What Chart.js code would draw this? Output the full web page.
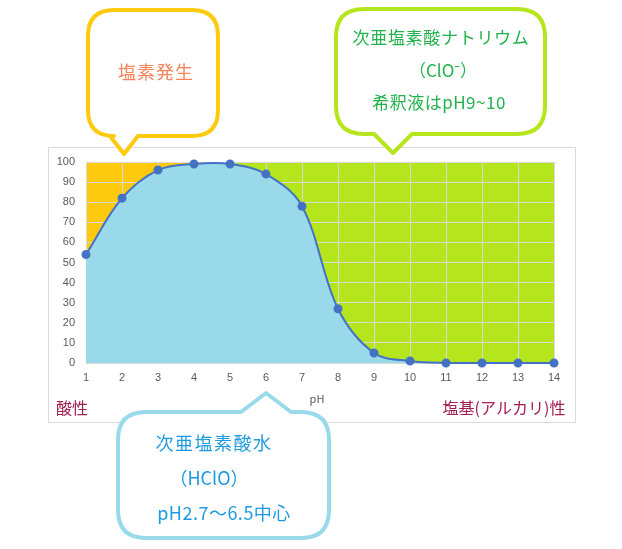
<!DOCTYPE html>
<html>
<head>
<meta charset="utf-8">
<script src="https://cdn.jsdelivr.net/npm/chart.js@4/dist/chart.umd.min.js"></script>
<style>
  html, body { margin: 0; padding: 0; background: #fff; }
  #wrap { width: 622px; height: 549px; position: relative; }
</style>
</head>
<body>
<div id="wrap"><canvas id="myChart"></canvas></div>
<script>
// pH と 次亜塩素酸(HClO) の存在比率 (%)
const phValues = [1, 2, 3, 4, 5, 6, 7, 8, 9, 10, 11, 12, 13, 14];
const hcloRatio = [54, 82, 96, 99, 99, 94, 78, 27, 5, 1, 0, 0, 0, 0];
const yTicks = [0, 10, 20, 30, 40, 50, 60, 70, 80, 90, 100];
// 背景の色分け (pH範囲)
const zoneFrom = [1, 4.5];
const zoneTo = [4.5, 14];
const zoneColors = ["#FFC90E", "#B5E61D"];

const FONT_JP = "'Noto Sans CJK JP', 'Noto Sans', sans-serif";

// 吹き出し (dir: "down" なら下向き, "up" なら上向き)
function bubble(ctx, b) {
  const { x, y, w, h, r, tipX, tipY, half, dir, color } = b;
  ctx.save();
  ctx.lineWidth = 4;
  ctx.strokeStyle = color;
  ctx.fillStyle = "#fff";
  ctx.lineJoin = "round";
  ctx.beginPath();
  ctx.moveTo(x + r, y);
  if (dir === "up") {
    ctx.lineTo(tipX - half, y);
    ctx.lineTo(tipX, tipY);
    ctx.lineTo(tipX + half, y);
  }
  ctx.lineTo(x + w - r, y);
  ctx.quadraticCurveTo(x + w, y, x + w, y + r);
  ctx.lineTo(x + w, y + h - r);
  ctx.quadraticCurveTo(x + w, y + h, x + w - r, y + h);
  if (dir === "down") {
    ctx.lineTo(tipX + half, y + h);
    ctx.lineTo(tipX, tipY);
    ctx.lineTo(tipX - half, y + h);
  }
  ctx.lineTo(x + r, y + h);
  ctx.quadraticCurveTo(x, y + h, x, y + h - r);
  ctx.lineTo(x, y + r);
  ctx.quadraticCurveTo(x, y, x + r, y);
  ctx.closePath();
  ctx.fill();
  ctx.stroke();
  ctx.restore();
}

function text(ctx, str, x, y, color, size, spacing) {
  ctx.save();
  ctx.fillStyle = color;
  ctx.font = size + "px " + FONT_JP;
  ctx.letterSpacing = (spacing || 0) + "px";
  ctx.textAlign = "center";
  ctx.textBaseline = "middle";
  ctx.fillText(str, x, y);
  ctx.restore();
}

const zonePlugin = {
  id: "zones",
  beforeDraw(chart) {
    const { ctx, chartArea, scales } = chart;
    // 外枠
    ctx.save();
    ctx.strokeStyle = "#D9D9D9";
    ctx.lineWidth = 1;
    ctx.strokeRect(48.5, 147.5, 527, 275);
    ctx.restore();
    ctx.save();
    for (let i = 0; i < zoneFrom.length; i++) {
      const x0 = scales.x.getPixelForValue(zoneFrom[i]);
      const x1 = scales.x.getPixelForValue(zoneTo[i]);
      ctx.fillStyle = zoneColors[i];
      ctx.fillRect(x0, chartArea.top, x1 - x0, chartArea.bottom - chartArea.top);
    }
    ctx.restore();
  },
  afterDraw(chart) {
    const ctx = chart.ctx;
    text(ctx, "pH", 317, 399, "#595959", 11);
    text(ctx, "酸性", 72, 408, "#A0204F", 16);
    text(ctx, "塩基(アルカリ)性", 504, 408, "#A0204F", 16);

    bubble(ctx, { x: 88, y: 10, w: 130, h: 126, r: 26, tipX: 124, tipY: 154, half: 14, dir: "down", color: "#FFC90E" });
    text(ctx, "塩素発生", 156, 72, "#F7835A", 18, 1);

    bubble(ctx, { x: 336, y: 9, w: 209, h: 125, r: 28, tipX: 393, tipY: 153, half: 19, dir: "down", color: "#B5E61D" });
    text(ctx, "次亜塩素酸ナトリウム", 441, 38, "#22B14C", 17, 0.7);
    text(ctx, "（ClO⁻）", 443, 71, "#22B14C", 17);
    text(ctx, "希釈液はpH9~10", 439, 103, "#22B14C", 17, 0.5);

    bubble(ctx, { x: 118, y: 412, w: 211, h: 126, r: 28, tipX: 266, tipY: 393, half: 25, dir: "up", color: "#99D9EA" });
    text(ctx, "次亜塩素酸水", 214, 443, "#1E9BE0", 18, 1.5);
    text(ctx, "（HClO）", 209, 478, "#1E9BE0", 18);
    text(ctx, "pH2.7～6.5中心", 224, 513, "#1E9BE0", 18, 0.5);
  }
};

new Chart(document.getElementById("myChart"), {
  type: "line",
  data: {
    datasets: [
      {
        label: "HClO",
        data: phValues.map((p, i) => ({ x: p, y: hcloRatio[i] })),
        borderColor: "#4472C4",
        borderWidth: 2,
        backgroundColor: "#99D9EA",
        fill: "origin",
        pointRadius: 3.5,
        pointBackgroundColor: "#4472C4",
        pointBorderColor: "#4472C4",
        tension: 0.35,
        clip: false,
      },
    ],
  },
  options: {
    responsive: true,
    maintainAspectRatio: false,
    animation: false,
    layout: {
      padding: { left: 50, top: 162, right: 68, bottom: 156 },
    },
    plugins: {
      legend: { display: false },
      tooltip: { enabled: false },
    },
    scales: {
      x: {
        type: "linear",
        min: 1,
        max: 14,
        afterBuildTicks: (axis) => {
          axis.ticks = phValues.map((v) => ({ value: v }));
        },
        afterFit: (axis) => {
          axis.height = 30;
        },
        ticks: {
          color: "#595959",
          font: { size: 11, family: "'Liberation Sans', Arial, sans-serif" },
          padding: 8,
        },
        grid: { color: "#D9D9D9", drawTicks: false },
        border: { color: "#D9D9D9" },
      },
      y: {
        min: 0,
        max: 100,
        afterBuildTicks: (axis) => {
          axis.ticks = yTicks.map((v) => ({ value: v }));
        },
        afterFit: (axis) => {
          axis.width = 36;
        },
        ticks: {
          color: "#595959",
          font: { size: 11, family: "'Liberation Sans', Arial, sans-serif" },
          padding: 11,
        },
        grid: { color: "#D9D9D9", drawTicks: false },
        border: { color: "#D9D9D9" },
      },
    },
  },
  plugins: [zonePlugin],
});
</script>
</body>
</html>
